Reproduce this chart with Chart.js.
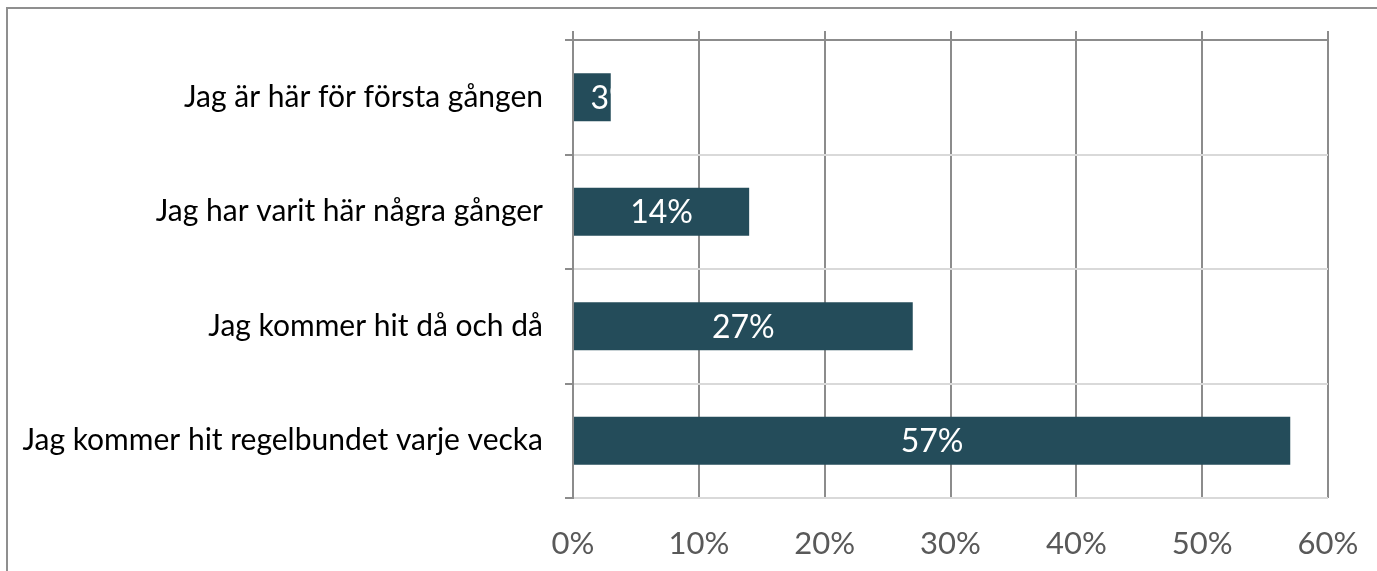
<!DOCTYPE html>
<html>
<head>
<meta charset="utf-8">
<script src="https://cdn.jsdelivr.net/npm/chart.js@4.4.0/dist/chart.umd.min.js"></script>
<style>
  html, body { margin: 0; padding: 0; background: #fff; }
  #wrap { position: relative; width: 1377px; height: 571px; overflow: hidden; }
  #frame { position: absolute; left: 6px; top: 7px; width: 1400px; height: 600px;
           border-left: 2px solid #8f8f8f; border-top: 2px solid #8f8f8f; }
  canvas { position: absolute; left: 0; top: 0; }
</style>
</head>
<body>
<div id="wrap">
  <div id="frame"></div>
  <canvas id="barChart" width="1377" height="571"></canvas>
</div>
<script>
const categories = [
    'Jag är här för första gången',
    'Jag har varit här några gånger',
    'Jag kommer hit då och då',
    'Jag kommer hit regelbundet varje vecka'
];
const shares = [3, 14, 27, 57];
const tickValues = [0, 10, 20, 30, 40, 50, 60];

const dark = '#8c8c8c';
const light = '#d9d9d9';
const font = 'Lato';

// white value labels inside the bars, clipped to the bar
const barLabels = {
    id: 'barLabels',
    afterDatasetsDraw(chart) {
        const c = chart.ctx;
        const meta = chart.getDatasetMeta(0);
        c.save();
        c.font = '32px ' + font;
        c.fillStyle = '#ffffff';
        c.textBaseline = 'middle';
        meta.data.forEach((bar, i) => {
            const left = Math.min(bar.base, bar.x);
            const w = Math.abs(bar.x - bar.base);
            const top = bar.y - bar.height / 2;
            const text = shares[i] + '%';
            const tw = c.measureText(text).width;
            c.save();
            c.beginPath();
            c.rect(left, top, w, bar.height);
            c.clip();
            if (tw > w) {
                c.textAlign = 'left';
                c.fillText(text, left + w / 2 - 2, bar.y + 1);
            } else {
                c.textAlign = 'center';
                c.fillText(text, left + w / 2, bar.y + 1);
            }
            c.restore();
        });
        c.restore();
    }
};

const noSidePadding = s => { s.paddingLeft = 0; s.paddingRight = 0; };

new Chart(document.getElementById('barChart'), {
    type: 'bar',
    data: {
        labels: categories,
        datasets: [{
            data: shares,
            backgroundColor: '#244c5a',
            barPercentage: 0.84,
            categoryPercentage: 0.5
        }]
    },
    options: {
        indexAxis: 'y',
        responsive: false,
        animation: false,
        layout: { padding: { left: 0, right: 49, top: 28, bottom: 0 } },
        plugins: { legend: { display: false }, tooltip: { enabled: false } },
        scales: {
            x: {
                position: 'bottom',
                min: 0,
                max: 60,
                afterBuildTicks: s => { s.ticks = tickValues.map(v => ({ value: v })); },
                afterFit: s => { s.height = 73; noSidePadding(s); },
                border: { display: false },
                grid: { color: dark, lineWidth: 2, drawTicks: false },
                ticks: {
                    padding: 27,
                    color: '#595959',
                    font: { family: font, size: 31 },
                    callback: v => v + '%'
                }
            },
            xTop: {
                position: 'top',
                min: 0,
                max: 60,
                afterBuildTicks: s => { s.ticks = tickValues.map(v => ({ value: v })); },
                afterFit: s => { s.height = 9; noSidePadding(s); },
                border: { display: false },
                grid: { drawOnChartArea: false, color: dark, lineWidth: 2, tickLength: 9 },
                ticks: { display: false }
            },
            y: {
                afterFit: s => { s.width = 573; },
                border: { color: dark, width: 2 },
                grid: {
                    offset: true,
                    lineWidth: 2,
                    tickLength: 8,
                    color: ctx => ctx.index === 0 ? dark : light,
                    tickColor: dark
                },
                ticks: {
                    padding: 22,
                    color: '#000000',
                    font: { family: font, size: 30 }
                }
            }
        }
    },
    plugins: [barLabels]
});
</script>
</body>
</html>
